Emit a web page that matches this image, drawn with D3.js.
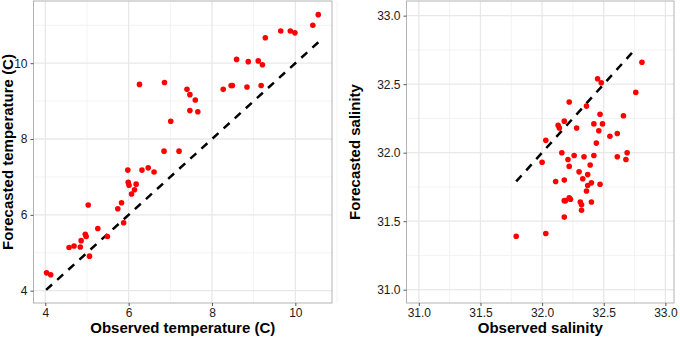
<!DOCTYPE html>
<html lang="en">
<head>
<meta charset="utf-8">
<title>Observed vs forecasted</title>
<script src="https://d3js.org/d3.v7.min.js"></script>
<style>
  body { margin: 0; background: #fff; font-family: "Liberation Sans", Arial, sans-serif; }
  .tick text { fill: #1a1a1a; font-size: 12px; }
  .title { font-weight: bold; font-size: 15px; fill: #000; }
</style>
</head>
<body>
<div id="chart"></div>
<script>
// temperature panel
var tempObs = [4.03, 4.13, 4.57, 4.69, 4.84, 4.86, 4.96, 4.98, 5.03, 5.06, 5.26, 5.49, 5.74, 5.83, 5.88,
  5.98, 5.99, 6.01, 6.07, 6.14, 6.18, 6.26, 6.32, 6.47, 6.61, 6.85, 6.86, 7.01, 7.21, 7.40, 7.47, 7.47,
  7.60, 7.66, 8.27, 8.46, 8.49, 8.59, 8.84, 8.87, 9.11, 9.18, 9.21, 9.28, 9.65, 9.88, 9.99, 10.42, 10.55]
var tempFc = [4.47, 4.42, 5.14, 5.18, 5.15, 5.32, 5.49, 5.43, 6.26, 4.91, 5.64, 5.43, 6.16, 6.32, 5.79,
  7.18, 6.86, 6.78, 6.55, 6.66, 6.81, 9.44, 7.18, 7.24, 7.13, 7.68, 9.49, 8.47, 7.68, 9.31, 9.17, 8.75,
  9.03, 8.72, 9.31, 9.41, 9.41, 10.10, 9.37, 10.04, 10.06, 9.41, 9.96, 10.67, 10.85, 10.85, 10.80, 11.00, 11.28]
var tempLine = [4.02, 10.58]
var tempTicks = [4, 6, 8, 10]

// salinity panel
var salObs = [31.79, 32.03, 32.00, 32.03, 32.11, 32.13, 32.14, 32.16, 32.18, 32.18, 32.18, 32.18, 32.19,
  32.21, 32.22, 32.22, 32.22, 32.23, 32.26, 32.28, 32.30, 32.31, 32.32, 32.32, 32.33, 32.34, 32.36, 32.37,
  32.37, 32.36, 32.39, 32.40, 32.40, 32.42, 32.42, 32.44, 32.45, 32.46, 32.47, 32.47, 32.48, 32.49, 32.55,
  32.61, 32.61, 32.66, 32.68, 32.69, 32.76, 32.81]
var salFc = [31.39, 31.41, 31.93, 32.09, 31.79, 32.20, 32.18, 32.00, 31.53, 31.65, 32.23, 31.80, 31.65,
  31.95, 32.37, 31.90, 31.67, 31.66, 31.98, 32.18, 31.86, 31.64, 31.62, 31.58, 31.81, 31.97, 32.34, 31.84,
  31.76, 31.72, 31.91, 31.64, 31.78, 32.21, 31.98, 32.07, 32.54, 32.16, 32.28, 31.77, 32.51, 32.21, 32.12,
  32.14, 31.97, 32.27, 31.95, 32.00, 32.44, 32.66]
var salLine = [31.79, 32.76]
var salTicks = [31.0, 31.5, 32.0, 32.5, 33.0]

var w = 680, h = 337

var svg = d3.select("#chart").append("svg")
  .attr("width", w)
  .attr("height", h)

function panel(opt) {
  var x = d3.scaleLinear().domain(opt.xDomain).range([opt.left, opt.right])
  var y = d3.scaleLinear().domain(opt.yDomain).range([opt.bottom, opt.top])
  var g = svg.append("g")

  // minor grid
  g.selectAll(".minx").data(opt.minor).enter().append("line")
    .attr("x1", d => x(d)).attr("x2", d => x(d))
    .attr("y1", opt.top).attr("y2", opt.bottom)
    .attr("stroke", "#f3f3f3").attr("stroke-width", 1)
  g.selectAll(".miny").data(opt.minor).enter().append("line")
    .attr("y1", d => y(d)).attr("y2", d => y(d))
    .attr("x1", opt.left).attr("x2", opt.right)
    .attr("stroke", "#f3f3f3").attr("stroke-width", 1)
  // major grid
  g.selectAll(".majx").data(opt.ticks).enter().append("line")
    .attr("x1", d => x(d)).attr("x2", d => x(d))
    .attr("y1", opt.top).attr("y2", opt.bottom)
    .attr("stroke", "#e8e8e8").attr("stroke-width", 1.3)
  g.selectAll(".majy").data(opt.ticks).enter().append("line")
    .attr("y1", d => y(d)).attr("y2", d => y(d))
    .attr("x1", opt.left).attr("x2", opt.right)
    .attr("stroke", "#e8e8e8").attr("stroke-width", 1.3)

  // reference line y = x
  g.append("line")
    .attr("x1", x(opt.line[0])).attr("y1", y(opt.line[0]))
    .attr("x2", x(opt.line[1])).attr("y2", y(opt.line[1]))
    .attr("stroke", "#000").attr("stroke-width", 2.5)
    .attr("stroke-dasharray", "8,7")

  g.selectAll("circle").data(opt.xs).enter().append("circle")
    .attr("cx", d => x(d))
    .attr("cy", (d, i) => y(opt.ys[i]))
    .attr("r", 2.8)
    .attr("fill", "#ff0000")

  // border
  g.append("rect")
    .attr("x", opt.left).attr("y", opt.top)
    .attr("width", opt.right - opt.left).attr("height", opt.bottom - opt.top)
    .attr("fill", "none").attr("stroke", "#b3b3b3").attr("stroke-width", 1)

  g.append("g").attr("transform", "translate(0," + opt.bottom + ")")
    .call(d3.axisBottom(x).tickValues(opt.ticks).tickFormat(opt.fmt).tickSizeOuter(0).tickSize(3).tickPadding(2))
  g.append("g").attr("transform", "translate(" + opt.left + ",0)")
    .call(d3.axisLeft(y).tickValues(opt.ticks).tickFormat(opt.fmt).tickSizeOuter(0).tickSize(3).tickPadding(3))
  g.selectAll(".domain").remove()
  g.selectAll(".tick line").attr("stroke", "#555")
  g.selectAll(".tick text").attr("font-family", "Liberation Sans, Arial, sans-serif")

  g.append("text").attr("class", "title")
    .attr("x", (opt.left + opt.right) / 2).attr("y", 333)
    .attr("text-anchor", "middle")
    .text(opt.xTitle)
  g.append("text").attr("class", "title")
    .attr("transform", "translate(" + opt.yTitleX + "," + (opt.top + opt.bottom) / 2 + ") rotate(-90)")
    .attr("text-anchor", "middle")
    .text(opt.yTitle)
}

panel({
  xs: tempObs, ys: tempFc, line: tempLine, ticks: tempTicks, minor: [5, 7, 9, 11],
  xDomain: [3.717, 10.88], yDomain: [3.675, 11.64],
  left: 33.5, right: 332, top: 1, bottom: 303,
  fmt: d3.format("d"),
  xTitle: "Observed temperature (C)", yTitle: "Forecasted temperature (C)", yTitleX: 13
})

panel({
  xs: salObs, ys: salFc, line: salLine, ticks: salTicks, minor: [31.25, 31.75, 32.25, 32.75],
  xDomain: [30.9, 33.07], yDomain: [30.903, 33.107],
  left: 406.5, right: 674, top: 1, bottom: 303,
  fmt: d3.format(".1f"),
  xTitle: "Observed salinity", yTitle: "Forecasted salinity", yTitleX: 360
})
</script>
</body>
</html>
